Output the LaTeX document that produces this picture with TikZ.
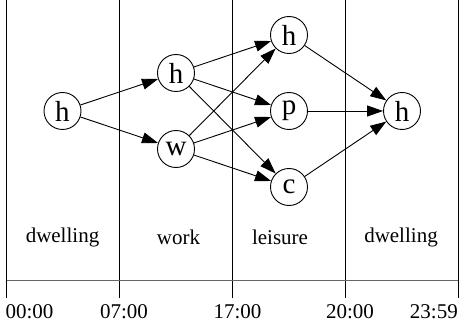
\documentclass[tikz,border=0pt]{standalone}
\usepackage{fontspec}
\setmainfont{Liberation Serif}
\usetikzlibrary{arrows.meta}
\tikzset{
  state/.style={circle, draw, line width=0.9pt, minimum size=37pt, inner sep=0pt, font=\fontsize{29}{29}\selectfont},
  trans/.style={line width=0.9pt, -{Triangle[length=16pt,width=11pt]}},
  divider/.style={line width=0.9pt},
  axis/.style={line width=0.9pt, draw=black!60},
  lbl/.style={font=\fontsize{21}{21}\selectfont, inner sep=0pt},
}
\begin{document}
\begin{tikzpicture}[x=1pt, y=-1pt]
\useasboundingbox (0,0) rectangle (459,329);
% time dividers and axis
\foreach \x in {6.5,119.5,232.5,345.5,458} \draw[divider] (\x,0) -- (\x,298);
\draw[axis] (6.5,280) -- (458,280);
% time stamps
\node[lbl] (t0) at (29.5,312) {00:00};
\node[lbl] (t1) at (124,312) {07:00};
\node[lbl] (t2) at (237.5,312) {17:00};
\node[lbl] (t3) at (350,312) {20:00};
\node[lbl, anchor=east] (t4) at (458,312) {23:59};
% activity names
\node[lbl] (a0) at (62.5,237) {dwelling};
\node[lbl] (a1) at (178.5,237) {work};
\node[lbl] (a2) at (280,237) {leisure};
\node[lbl] (a3) at (401,237) {dwelling};
% states
\node[state] (h0) at (62.5,111) {h};
\node[state] (h1) at (176,73) {h};
\node[state] (w1) at (176,149) {w};
\node[state] (h2) at (289,35) {h};
\node[state] (p2) at (289,111) {p};
\node[state] (c2) at (289,187) {c};
\node[state] (h3) at (402,111) {h};
% transitions
\draw[trans] (h0) -- (h1);
\draw[trans] (h0) -- (w1);
\draw[trans] (h1) -- (h2);
\draw[trans] (h1) -- (p2);
\draw[trans] (h1) -- (c2);
\draw[trans] (w1) -- (h2);
\draw[trans] (w1) -- (p2);
\draw[trans] (w1) -- (c2);
\draw[trans] (h2) -- (h3);
\draw[trans] (p2) -- (h3);
\draw[trans] (c2) -- (h3);
\end{tikzpicture}
\end{document}
